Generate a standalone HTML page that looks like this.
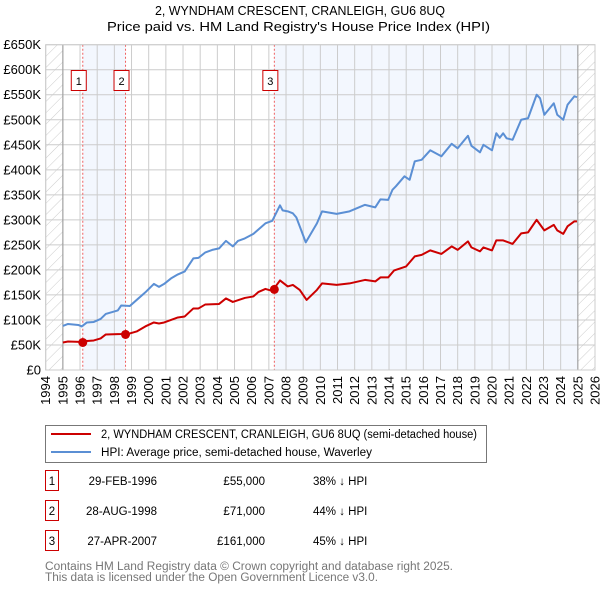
<!DOCTYPE html>
<html><head><meta charset="utf-8"><style>
html,body{margin:0;padding:0;background:#fff;}
svg{display:block;font-family:"Liberation Sans","DejaVu Sans",sans-serif;}
</style></head><body>
<svg id="chart" width="600" height="590" viewBox="0 0 600 590" xmlns="http://www.w3.org/2000/svg">
<defs>
<pattern id="hatch" patternUnits="userSpaceOnUse" width="8" height="8" patternTransform="rotate(45)">
<line x1="0" y1="0" x2="0" y2="8" stroke="#ccc" stroke-width="1"/>
</pattern>
<clipPath id="plotclip"><rect x="45.7" y="44.7" width="549.3" height="325.3"/></clipPath>
</defs>
<text x="155" y="15" font-size="13" textLength="290" lengthAdjust="spacingAndGlyphs">2, WYNDHAM CRESCENT, CRANLEIGH, GU6 8UQ</text>
<text x="107" y="31" font-size="13" textLength="383" lengthAdjust="spacingAndGlyphs">Price paid vs. HM Land Registry's House Price Index (HPI)</text>
<g id="plot"></g>
<g id="legend">
<rect x="45.5" y="425.5" width="441" height="37" fill="#fff" stroke="#777"/>
<line x1="51" y1="434" x2="91" y2="434" stroke="#cc0000" stroke-width="2"/>
<text x="101" y="438" font-size="11.5" textLength="376" lengthAdjust="spacingAndGlyphs">2, WYNDHAM CRESCENT, CRANLEIGH, GU6 8UQ (semi-detached house)</text>
<line x1="51" y1="452" x2="91" y2="452" stroke="#5b8fd4" stroke-width="2"/>
<text x="101" y="456" font-size="11.5" textLength="271" lengthAdjust="spacingAndGlyphs">HPI: Average price, semi-detached house, Waverley</text>
</g>
<g id="table"></g>
<text x="45" y="570" font-size="11.5" fill="#777" textLength="408" lengthAdjust="spacingAndGlyphs">Contains HM Land Registry data © Crown copyright and database right 2025.</text>
<text x="45" y="581" font-size="11.5" fill="#777" textLength="333" lengthAdjust="spacingAndGlyphs">This data is licensed under the Open Government Licence v3.0.</text>
</svg>
<script>
const hpiYears=[1995.0,1995.3,1995.9,1996.1,1996.4,1996.8,1997.2,1997.5,1997.9,1998.2,1998.4,1998.9,1999.3,1999.8,2000.3,2000.6,2000.9,2001.3,2001.7,2002.1,2002.6,2002.9,2003.3,2003.7,2004.1,2004.5,2004.9,2005.2,2005.6,2006.1,2006.4,2006.8,2007.2,2007.65,2007.8,2008.1,2008.4,2008.6,2008.8,2009.15,2009.8,2010.1,2010.95,2011.7,2012.6,2013.2,2013.5,2013.95,2014.2,2014.4,2014.9,2015.2,2015.5,2015.9,2016.4,2017.05,2017.65,2018.0,2018.6,2018.8,2019.3,2019.5,2020.0,2020.25,2020.45,2020.65,2020.85,2021.2,2021.7,2022.1,2022.6,2022.8,2023.05,2023.6,2023.8,2024.15,2024.4,2024.8,2024.95];
const hpiValues=[88,92,90,87,95,96,102,112,116,119,129,128,140,155,172,166,172,183,191,197,223,224,235,240,243,258,247,258,263,272,281,293,298,329,319,317,313,305,287,255,293,317,312,317,330,325,341,340,360,367,387,380,417,420,439,427,452,443,468,448,435,450,439,473,464,473,463,460,500,503,550,543,510,533,510,500,530,547,545];
const propYears=[1995.0,1995.3,1996.2,1996.4,1996.8,1997.2,1997.5,1998.4,1998.9,1999.3,1999.8,2000.3,2000.6,2000.9,2001.7,2002.1,2002.6,2002.9,2003.3,2004.1,2004.5,2004.9,2005.6,2006.1,2006.4,2006.8,2007.2,2007.65,2008.1,2008.4,2008.8,2009.2,2009.8,2010.1,2010.95,2011.7,2012.6,2013.2,2013.5,2013.95,2014.3,2015.0,2015.5,2015.9,2016.4,2017.05,2017.65,2018.0,2018.6,2018.8,2019.3,2019.5,2020.0,2020.25,2020.65,2021.2,2021.7,2022.1,2022.6,2023.05,2023.6,2023.8,2024.15,2024.4,2024.8,2024.95];
const propValues=[55,57,56,58,59,63,71,72,73,77,87,95,93,95,105,107,123,123,131,132,143,136,144,147,156,162,158,179,167,170,160,140,160,173,170,173,180,177,185,185,199,207,227,230,239,232,247,240,257,245,237,245,239,259,259,252,273,275,300,279,290,279,272,287,297,297];
const saleLabels=["1","2","3"];
const saleDates=["29-FEB-1996","28-AUG-1998","27-APR-2007"];
const saleYears=[1996.16,1998.65,2007.32];
const salePrices=[55,71,161];
const salePriceText=["£55,000","£71,000","£161,000"];
const saleHpiText=["38% ↓ HPI","44% ↓ HPI","45% ↓ HPI"];
const yTicks=[0,50,100,150,200,250,300,350,400,450,500,550,600,650];
const yTickLabels=["£0","£50K","£100K","£150K","£200K","£250K","£300K","£350K","£400K","£450K","£500K","£550K","£600K","£650K"];
const xTicks=[1994,1995,1996,1997,1998,1999,2000,2001,2002,2003,2004,2005,2006,2007,2008,2009,2010,2011,2012,2013,2014,2015,2016,2017,2018,2019,2020,2021,2022,2023,2024,2025,2026];

const X0=45.7,X1=595,Y0=370,Y1=44.7;
const xs=y=>X0+(y-1994)/(2026-1994)*(X1-X0);
const ys=v=>Y0-v/650*(Y0-Y1);
const NS="http://www.w3.org/2000/svg";
function mk(tag,attrs,parent){const e=document.createElementNS(NS,tag);for(const k in attrs)e.setAttribute(k,attrs[k]);parent.appendChild(e);return e;}
const plot=document.getElementById('plot');



let r=mk('rect',{x:X0,y:Y1,width:X1-X0,height:Y0-Y1,fill:'#fff'},plot);


r=mk('rect',{x:xs(saleYears[0]),y:Y1,width:xs(saleYears[1])-xs(saleYears[0]),height:Y0-Y1,fill:'#f3f7fe'},plot);


r=mk('rect',{x:xs(saleYears[2]),y:Y1,width:xs(2025)-xs(saleYears[2]),height:Y0-Y1,fill:'#f3f7fe'},plot);


r=mk('rect',{x:X0,y:Y1,width:xs(1995)-X0,height:Y0-Y1,fill:'url(#hatch)'},plot);


r=mk('rect',{x:xs(2025),y:Y1,width:X1-xs(2025),height:Y0-Y1,fill:'url(#hatch)'},plot);


xTicks.forEach((t,i)=>{
  const l=mk('line',{x1:xs(t),x2:xs(t),y1:Y1,y2:Y0,stroke:'#ccc','stroke-width':1},plot);
  
  
  const tx=mk('text',{x:0,y:0,'font-size':13,'text-anchor':'end',transform:`translate(${xs(t)+4.5},376) rotate(-90)`},plot);
  
  
  tx.textContent=t;
});
yTicks.forEach((t,i)=>{
  const l=mk('line',{x1:X0,x2:X1,y1:ys(t),y2:ys(t),stroke:'#ccc','stroke-width':1},plot);
  
  
  const tx=mk('text',{x:41,y:ys(t)+4.5,'font-size':13,'text-anchor':'end'},plot);
  
  
  tx.textContent=yTickLabels[i];
});
[1995,2025].forEach(t=>{
  const l=mk('line',{x1:xs(t),x2:xs(t),y1:Y1,y2:Y0,stroke:'#999','stroke-width':1},plot);
  
  
});
saleYears.forEach((s,i)=>{
  const l=mk('line',{x1:xs(s),x2:xs(s),y1:Y1,y2:Y0,stroke:'#f06060','stroke-width':1,'stroke-dasharray':'2,2'},plot);
  
  
  const b=mk('rect',{x:xs(s)-11.5,y:70.5,width:15,height:20,fill:'#fff',stroke:'#cc0000'},plot);
  
  
  const t=mk('text',{x:xs(s)-4,y:85,'font-size':11,'text-anchor':'middle'},plot);
  
  
  t.textContent=saleLabels[i];
});
const g=mk('g',{'clip-path':'url(#plotclip)'},plot);
let p=mk('polyline',{points:hpiYears.map((y,i)=>xs(y)+','+ys(hpiValues[i])).join(' '),fill:'none',stroke:'#5b8fd4','stroke-width':2,'stroke-linejoin':'round'},g);


p=mk('polyline',{points:propYears.map((y,i)=>xs(y)+','+ys(propValues[i])).join(' '),fill:'none',stroke:'#cc0000','stroke-width':2,'stroke-linejoin':'round'},g);


saleYears.forEach((s,i)=>{
  const c=mk('circle',{cx:xs(s),cy:ys(salePrices[i]),r:4.5,fill:'#cc0000'},plot);
  
  
});
let bd=mk('rect',{x:X0,y:Y1,width:X1-X0,height:Y0-Y1,fill:'none',stroke:'#ccc'},plot);


const tb=document.getElementById('table');
saleLabels.forEach((lab,i)=>{
  const cy=483+i*30;
  const b=mk('rect',{x:45.5,y:cy-12.5,width:13,height:20,fill:'#fff',stroke:'#cc0000'},tb);
  
  
  let t=mk('text',{x:52,y:cy+2,'font-size':11.5,'text-anchor':'middle'},tb);
  
  
  t.textContent=lab;
  t=mk('text',{x:157,y:cy+2,'font-size':11.5,'text-anchor':'end'},tb);
  
  
  t.textContent=saleDates[i];
  t=mk('text',{x:265,y:cy+2,'font-size':11.5,'text-anchor':'end'},tb);
  
  
  t.textContent=salePriceText[i];
  t=mk('text',{x:313,y:cy+2,'font-size':11.5},tb);
  
  
  t.textContent=saleHpiText[i];
});
</script>
</body></html>
